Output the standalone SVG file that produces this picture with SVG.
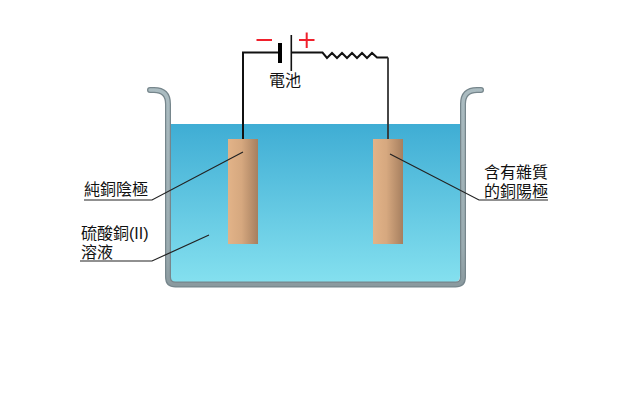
<svg xmlns="http://www.w3.org/2000/svg" width="640" height="400" viewBox="0 0 640 400">
<style>
text{font-family:"Liberation Sans","Noto Sans CJK TC",sans-serif;font-size:16px;fill:#111}
.e{text-anchor:end}
.w{fill:none;stroke:#111;stroke-width:2}
.g{fill:none;stroke:#333;stroke-width:1.800}
.l{fill:none;stroke:#222;stroke-width:1.200}
.r{fill:none;stroke:#f0202c;stroke-width:2}
.t{fill:none;stroke-linecap:round}
</style>
<defs>
<linearGradient id="sol" x1="0" y1="0" x2="0" y2="1"><stop offset="0" stop-color="#3fadd4"/><stop offset="1" stop-color="#84e0ef"/></linearGradient>
<linearGradient id="cu" x1="0" y1="0" x2="1" y2="0"><stop offset="0" stop-color="#e2b388"/><stop offset="0.45" stop-color="#d6a87f"/><stop offset="1" stop-color="#a67f5f"/></linearGradient>
<linearGradient id="wall" gradientUnits="userSpaceOnUse" x1="0" y1="88" x2="0" y2="287"><stop offset="0" stop-color="#abbcc1"/><stop offset="0.8" stop-color="#9aabb0"/><stop offset="1" stop-color="#8a999e"/></linearGradient>
</defs>
<g id="solution"><path d="M170 124H460V276Q460 282 454 282H176Q170 282 170 276Z" fill="url(#sol)"/></g>
<g id="tank">
<path class="t" d="M150 90H154Q168 90 168 104V277Q168 284.500 175.500 284.500H455.500Q463 284.500 463 277V104Q463 90 477 90H481" stroke="#76868c" stroke-width="6"/>
<path class="t" d="M150 90H154Q168 90 168 104V277Q168 284.500 175.500 284.500H455.500Q463 284.500 463 277V104Q463 90 477 90H481" stroke="url(#wall)" stroke-width="3.500"/>
</g>
<g id="cathode"><rect x="228" y="139" width="30" height="105" fill="url(#cu)"/></g>
<g id="anode"><rect x="373" y="139" width="30" height="105" fill="url(#cu)"/></g>
<g id="connectors">
<path class="w" d="M243 139V52.500H279"/>
<path class="w" d="M291 52.500H322.500L327 58L332 53L337 58L342 53L347 58L352 53L357 58L362 53L367 58L372 53L377 57.500H388"/>
<path class="g" d="M388 57.500V139"/>
<path class="l" d="M84 200H152L243 152"/>
<path class="l" d="M80 261H152L209 235"/>
<path class="l" d="M390 154L479 200H548"/>
</g>
<g id="battery">
<rect x="278" y="43" width="4" height="20" fill="#000"/>
<rect x="290.500" y="35" width="1.600" height="36" fill="#111"/>
<path class="r" d="M256.500 40H272M299 40H314.500M306.700 32.500V48"/>
<text x="285" y="86" text-anchor="middle">電池</text>
</g>
<g id="label-cathode"><text x="84" y="195">純銅陰極</text></g>
<g id="label-solution"><text x="81" y="239">硫酸銅(II)</text><text x="81" y="258">溶液</text></g>
<g id="label-anode"><text class="e" x="548" y="178">含有雜質</text><text class="e" x="548" y="197">的銅陽極</text></g>
</svg>
